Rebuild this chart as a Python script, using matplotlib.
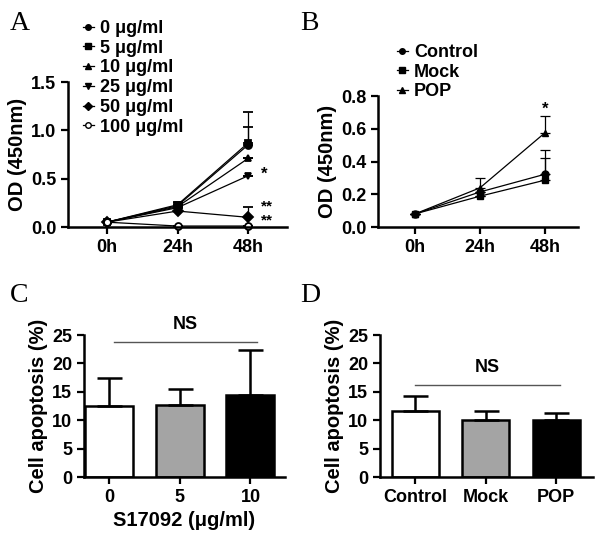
import numpy as np
import matplotlib
matplotlib.use("Agg")
import matplotlib.pyplot as plt
from matplotlib.lines import Line2D

plt.rcParams['font.family'] = ['Liberation Sans', 'DejaVu Sans']
plt.rcParams['font.weight'] = 'bold'

# panel A: proliferation with S17092 doses
times = ['0h', '24h', '48h']
conc_labels = ['0 \u03bcg/ml', '5 \u03bcg/ml', '10 \u03bcg/ml', '25 \u03bcg/ml', '50 \u03bcg/ml', '100 \u03bcg/ml']
od_a = [
    [0.05, 0.22, 0.85],
    [0.05, 0.23, 0.87],
    [0.05, 0.21, 0.71],
    [0.05, 0.20, 0.53],
    [0.05, 0.165, 0.10],
    [0.05, 0.01, 0.01],
]
err_a = [
    [0.0, 0.03, 0.18],
    [0.0, 0.03, 0.32],
    [0.0, 0.02, 0.0],
    [0.0, 0.02, 0.0],
    [0.0, 0.0, 0.11],
    [0.0, 0.0, 0.0],
]
markers_a = ['o', 's', '^', 'v', 'D', 'o']

# panel B: proliferation by group
groups = ['Control', 'Mock', 'POP']
od_b = [
    [0.08, 0.214, 0.322],
    [0.08, 0.188, 0.286],
    [0.08, 0.239, 0.575],
]
err_b = [
    [0.0, 0.0, 0.097],
    [0.0, 0.0, 0.183],
    [0.0, 0.063, 0.10],
]
markers_b = ['o', 's', '^']

# panel C / D: apoptosis
dose_c = ['0', '5', '10']
apop_c = [12.5, 12.7, 14.5]
apop_c_err = [4.9, 2.8, 7.9]
apop_d = [11.6, 10.1, 9.95]
apop_d_err = [2.7, 1.55, 1.3]
bar_colors = ['white', '#a4a4a4', 'black']

FS = 13     # tick / legend text
FL = 14.5   # axis labels

fig = plt.figure(figsize=(6.02, 5.38), dpi=100)

def style_axes(ax):
    for s in ['top', 'right']:
        ax.spines[s].set_visible(False)
    for s in ['left', 'bottom']:
        ax.spines[s].set_linewidth(1.8)
    ax.tick_params(width=1.6, length=5, labelsize=FS)
    for lab in ax.get_xticklabels() + ax.get_yticklabels():
        lab.set_fontweight('bold')

# ---- A
axA = fig.add_axes([68/602, 1-227/538, (287-68)/602, (227-82)/538])
x = np.arange(3)
for i in range(len(od_a)):
    mfc = 'white' if i == 5 else 'black'
    axA.errorbar(x, od_a[i], yerr=[np.zeros(3), err_a[i]], color='black', lw=0.9,
                 marker=markers_a[i], ms=5, mfc=mfc, mec='black', mew=1.3,
                 capsize=3.5, elinewidth=0.9, capthick=0.9, clip_on=False)
axA.set_xlim(-0.55, 2.55)
axA.set_ylim(0, 1.5)
axA.set_yticks([0, 0.5, 1.0, 1.5])
axA.set_yticklabels(['0.0', '0.5', '1.0', '1.5'])
axA.set_xticks(x)
axA.set_xticklabels(times)
axA.set_ylabel('OD (450nm)', fontsize=FL, fontweight='bold', labelpad=3)
style_axes(axA)
axA.text(2.18, 0.55, '*', fontsize=12, va='center', ha='left')
axA.text(2.18, 0.21, '**', fontsize=11, va='center', ha='left')
axA.text(2.18, 0.07, '**', fontsize=11, va='center', ha='left')
hA = [Line2D([0], [0], color='black', lw=0.9, marker=m, ms=4,
             mfc=('white' if k == 5 else 'black'), mec='black')
      for k, m in enumerate(markers_a)]
fig.legend(hA, conc_labels, loc='upper left', bbox_to_anchor=(74/602, 1-11/538),
           frameon=False, handlelength=0.6, handletextpad=0.35, labelspacing=0.15,
           borderpad=0, prop={'size': FS, 'weight': 'bold'})
fig.text(10/602, 1-24/538, 'A', fontsize=20, family='Liberation Serif', weight='normal', va='center')

# ---- B
axB = fig.add_axes([378/602, 1-227/538, (578-378)/602, (227-96)/538])
for i in range(len(od_b)):
    axB.errorbar(x, od_b[i], yerr=[np.zeros(3), err_b[i]], color='black', lw=0.9,
                 marker=markers_b[i], ms=5, mfc='black', mec='black',
                 capsize=3.5, elinewidth=0.9, capthick=0.9)
axB.set_xlim(-0.57, 2.51)
axB.set_ylim(0, 0.8)
axB.set_yticks([0, 0.2, 0.4, 0.6, 0.8])
axB.set_yticklabels(['0.0', '0.2', '0.4', '0.6', '0.8'])
axB.set_xticks(x)
axB.set_xticklabels(times)
axB.set_ylabel('OD (450nm)', fontsize=FL, fontweight='bold', labelpad=3)
style_axes(axB)
axB.text(2, 0.72, '*', fontsize=12, ha='center', va='center')
hB = [Line2D([0], [0], color='black', lw=0.9, marker=m, ms=4, mfc='black', mec='black')
      for m in markers_b]
fig.legend(hB, groups, loc='upper left', bbox_to_anchor=(388/602, 1-35/538),
           frameon=False, handlelength=0.6, handletextpad=0.35, labelspacing=0.15,
           borderpad=0, prop={'size': FS, 'weight': 'bold'})
fig.text(300/602, 1-24/538, 'B', fontsize=20, family='Liberation Serif', weight='normal', va='center')

# ---- C
axC = fig.add_axes([84/602, 1-477/538, (285-84)/602, (477-335)/538])
axC.bar(x, apop_c, width=0.68, color=bar_colors, edgecolor='black', linewidth=1.8,
        yerr=[np.zeros(3), apop_c_err], capsize=9, error_kw={'elinewidth': 1.8, 'capthick': 1.8})
axC.set_xlim(-0.36, 2.49)
axC.set_ylim(0, 25)
axC.set_yticks([0, 5, 10, 15, 20, 25])
axC.set_xticks(x)
axC.set_xticklabels(dose_c)
axC.set_ylabel('Cell apoptosis (%)', fontsize=FL, fontweight='bold', labelpad=3)
axC.set_xlabel('S17092 (\u03bcg/ml)', fontsize=FL, fontweight='bold')
style_axes(axC)
axC.plot([0.06, 2.1], [23.8, 23.8], color='#555555', lw=1.0, clip_on=False)
axC.text(1.08, 26.8, 'NS', fontsize=FS, ha='center', va='center')
fig.text(10/602, 1-295/538, 'C', fontsize=20, family='Liberation Serif', weight='normal', va='center')

# ---- D
axD = fig.add_axes([380/602, 1-477/538, (593-380)/602, (477-335)/538])
axD.bar(x, apop_d, width=0.67, color=bar_colors, edgecolor='black', linewidth=1.8,
        yerr=[np.zeros(3), apop_d_err], capsize=9, error_kw={'elinewidth': 1.8, 'capthick': 1.8})
axD.set_xlim(-0.5, 2.52)
axD.set_ylim(0, 25)
axD.set_yticks([0, 5, 10, 15, 20, 25])
axD.set_xticks(x)
axD.set_xticklabels(groups)
axD.set_ylabel('Cell apoptosis (%)', fontsize=FL, fontweight='bold', labelpad=3)
style_axes(axD)
axD.plot([0.0, 2.05], [16.2, 16.2], color='#555555', lw=1.0)
axD.text(1.02, 19.2, 'NS', fontsize=FS, ha='center', va='center')
fig.text(300/602, 1-295/538, 'D', fontsize=20, family='Liberation Serif', weight='normal', va='center')

fig.savefig('out.png', dpi=100)
